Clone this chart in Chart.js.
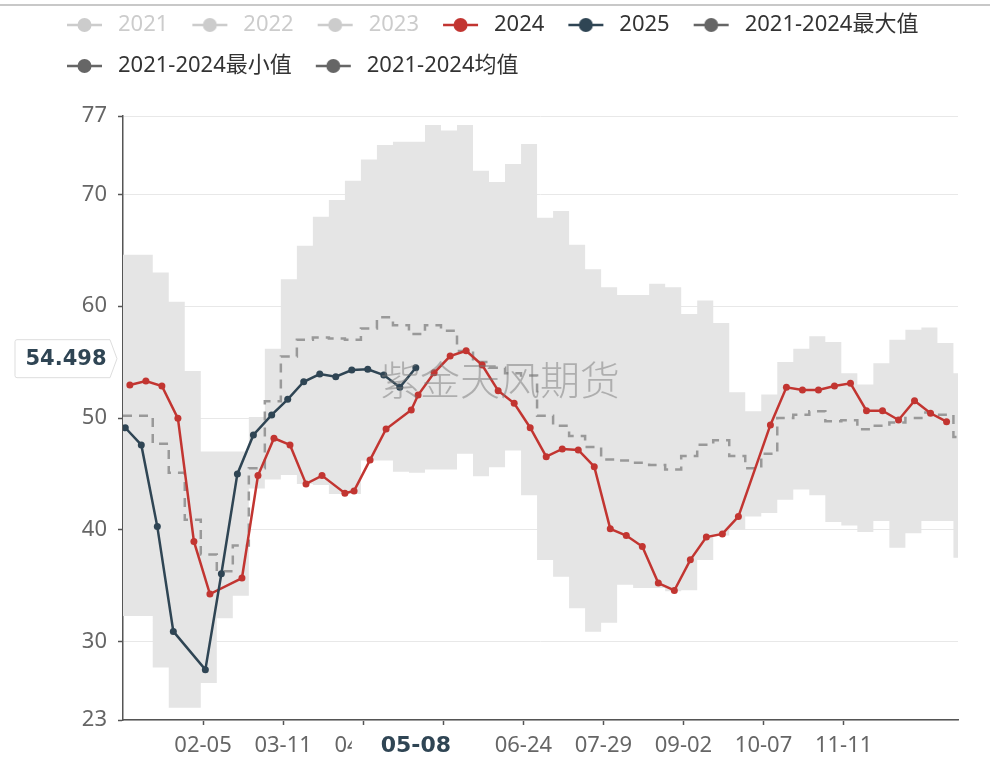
<!DOCTYPE html>
<html>
<head>
<meta charset="utf-8">
<script src="https://cdn.jsdelivr.net/npm/chart.js@4.4.1/dist/chart.umd.min.js"></script>
<style>
  html, body { margin: 0; padding: 0; background: #fff; }
  #wrap { position: relative; width: 1000px; height: 760px; overflow: hidden; }
  #topline { position: absolute; left: 0; top: 4px; width: 990px; height: 2px; background: #c8c8c8; }
  #myChart { position: absolute; left: 0; top: -5px; }
</style>
</head>
<body>
<div id="wrap">
  <div id="topline"></div>
  <canvas id="myChart" width="1000" height="765"></canvas>
</div>
<script>
//x轴刻度 (MM-DD)
const xTickLabels = ["02-05", "03-11", "04-15", "05-20", "06-24", "07-29", "09-02", "10-07", "11-11"];
const yTicks = [23, 30, 40, 50, 60, 70, 77];

//2021-2024 区间 (每周一档)
const bandDays = [
  "01-01", "01-14", "01-21", "01-28", "02-04", "02-11", "02-18", "02-25", "03-03", "03-10",
  "03-17", "03-24", "03-31", "04-07", "04-14", "04-21", "04-28", "05-05", "05-12", "05-19",
  "05-26", "06-02", "06-09", "06-16", "06-23", "06-30", "07-07", "07-14", "07-21", "07-28",
  "08-04", "08-11", "08-18", "08-25", "09-01", "09-08", "09-15", "09-22", "09-29", "10-06",
  "10-13", "10-20", "10-27", "11-03", "11-10", "11-17", "11-24", "12-01", "12-08", "12-15",
  "12-22", "12-29",
];
const maxVals = [
  64.6, 63.0, 60.4, 54.2, 47.0, 47.0, 47.0, 50.1, 56.2, 62.4,
  65.4, 68.0, 69.5, 71.2, 73.1, 74.4, 74.7, 74.7, 76.2, 75.7,
  76.2, 72.1, 71.1, 72.7, 74.5, 67.9, 68.5, 65.5, 63.3, 61.7,
  61.0, 61.0, 62.0, 61.7, 59.3, 60.5, 58.5, 52.3, 50.6, 52.1,
  55.0, 56.2, 57.3, 56.8, 54.0, 53.0, 54.9, 57.0, 57.9, 58.1,
  56.7, 54.0,
];
const minVals = [
  32.3, 27.7, 24.1, 24.1, 26.3, 32.1, 34.1, 43.7, 44.5, 44.9,
  44.1, 44.0, 43.2, 43.2, 46.2, 46.2, 45.2, 45.1, 45.4, 45.4,
  46.8, 44.8, 45.6, 47.1, 43.1, 37.3, 35.8, 33.0, 30.9, 31.7,
  35.1, 34.8, 34.8, 34.5, 34.6, 37.3, 39.5, 40.0, 41.2, 41.5,
  42.7, 43.6, 43.1, 40.7, 40.4, 39.8, 40.8, 38.4, 39.7, 40.8,
  40.8, 37.5,
];
const meanVals = [
  50.2, 47.7, 45.1, 40.9, 37.8, 36.3, 38.6, 45.5, 51.5, 55.5,
  57.0, 57.2, 57.1, 57.0, 58.0, 59.0, 58.3, 57.5, 58.3, 57.8,
  56.0, 55.0, 54.5, 54.0, 53.8, 50.2, 49.3, 48.4, 47.4, 46.3,
  46.2, 46.0, 45.8, 45.4, 46.6, 47.6, 48.0, 46.6, 45.5, 46.8,
  50.0, 50.3, 50.6, 49.7, 49.8, 49.0, 49.3, 49.6, 50.0, 50.5,
  50.3, 48.3,
];

//2024
const days2024 = [
  "01-04", "01-11", "01-18", "01-25", "02-01", "02-08", "02-22", "02-29", "03-07", "03-14",
  "03-21", "03-28", "04-07", "04-11", "04-18", "04-25", "05-06", "05-09", "05-16", "05-23",
  "05-30", "06-06", "06-13", "06-20", "06-27", "07-04", "07-11", "07-18", "07-25", "08-01",
  "08-08", "08-15", "08-22", "08-29", "09-05", "09-12", "09-19", "09-26", "10-10", "10-17",
  "10-24", "10-31", "11-07", "11-14", "11-21", "11-28", "12-05", "12-12", "12-19", "12-26",
];
const vals2024 = [
  52.95, 53.3, 52.86, 49.97, 38.96, 34.26, 35.69, 44.85, 48.19, 47.59,
  44.11, 44.85, 43.28, 43.48, 46.25, 49.02, 50.71, 52.05, 54.04, 55.54,
  56.01, 54.73, 52.44, 51.31, 49.13, 46.54, 47.23, 47.14, 45.65, 40.09,
  39.49, 38.51, 35.24, 34.58, 37.32, 39.35, 39.64, 41.19, 49.38, 52.74,
  52.5, 52.5, 52.86, 53.1, 50.65, 50.65, 49.82, 51.54, 50.42, 49.67,
];

//2025
const days2025 = [
  "01-02", "01-09", "01-16", "01-23", "02-06", "02-13", "02-20", "02-27", "03-06", "03-13",
  "03-20", "03-27", "04-03", "04-10", "04-17", "04-24", "05-01", "05-08",
];
const vals2025 = [
  49.13, 47.59, 40.29, 30.92, 27.5, 36.07, 45.0, 48.48, 50.27, 51.67,
  53.24, 53.93, 53.69, 54.29, 54.35, 53.84, 52.74, 54.498,
];

const pointerDay = "05-08";
const pointerValue = 54.498;

const names = ["2021", "2022", "2023", "2024", "2025", "2021-2024最大值", "2021-2024最小值", "2021-2024均值"];
const iconColors = ["#cccccc", "#cccccc", "#cccccc", "#c23531", "#2f4554", "#666666", "#666666", "#666666"];
const textColors = ["#cccccc", "#cccccc", "#cccccc", "#333333", "#333333", "#333333", "#333333", "#333333"];

//日期 -> 全年第几天 (闰年)
const monthStart = [0, 31, 60, 91, 121, 152, 182, 213, 244, 274, 305, 335];
function dayOf(md) {
  const [m, d] = md.split("-").map(Number);
  return monthStart[m - 1] + d - 1;
}

function toPoints(days, vals) {
  return days.map((d, i) => ({ x: dayOf(d), y: vals[i] }));
}

//阶梯区间最后延到年底
function bandPoints(vals) {
  const pts = toPoints(bandDays, vals);
  pts.push({ x: dayOf("12-31"), y: vals[vals.length - 1] });
  return pts;
}

//图例小图标: 线 + 圆点
function makeIcon(color) {
  const c = document.createElement("canvas");
  c.width = 45;
  c.height = 18;
  const g = c.getContext("2d");
  g.strokeStyle = color;
  g.lineWidth = 2.5;
  g.beginPath();
  g.moveTo(5, 9);
  g.lineTo(40, 9);
  g.stroke();
  g.fillStyle = color;
  g.beginPath();
  g.arc(22.5, 9, 7, 0, Math.PI * 2);
  g.fill();
  return c;
}
const icons = iconColors.map(makeIcon);

const FONT = '"Noto Sans", "Noto Sans CJK SC", sans-serif';
Chart.defaults.font.family = FONT;

//水印 + 轴指示标签
const overlayPlugin = {
  id: "overlay",
  afterDatasetsDraw(chart) {
    const ctx = chart.ctx;
    ctx.save();
    ctx.font = '300 40px "Noto Sans CJK SC"';
    ctx.fillStyle = "rgba(120,120,120,0.5)";
    ctx.textAlign = "center";
    ctx.textBaseline = "middle";
    ctx.fillText("紫金天风期货", 500, 385);
    ctx.restore();
  },
  afterDraw(chart) {
    const ctx = chart.ctx;
    const xs = chart.scales.x;
    const ys = chart.scales.y;
    const area = chart.chartArea;
    ctx.save();

    //x轴标签
    const px = xs.getPixelForValue(dayOf(pointerDay));
    ctx.fillStyle = "#fff";
    ctx.fillRect(px - 64, area.bottom + 7, 128, 40);
    ctx.font = 'bold 22px "DejaVu Sans"';
    ctx.fillStyle = "#2f4554";
    ctx.textAlign = "center";
    ctx.textBaseline = "middle";
    ctx.fillText(pointerDay, px, area.bottom + 26);

    //y轴标签
    const cy = ys.getPixelForValue(pointerValue) - 9;
    ctx.beginPath();
    ctx.moveTo(17, cy - 19);
    ctx.lineTo(110, cy - 19);
    ctx.lineTo(117, cy);
    ctx.lineTo(110, cy + 19);
    ctx.lineTo(17, cy + 19);
    ctx.quadraticCurveTo(15, cy + 19, 15, cy + 17);
    ctx.lineTo(15, cy - 17);
    ctx.quadraticCurveTo(15, cy - 19, 17, cy - 19);
    ctx.closePath();
    ctx.fillStyle = "#fff";
    ctx.fill();
    ctx.strokeStyle = "#dddddd";
    ctx.lineWidth = 1;
    ctx.stroke();
    ctx.font = 'bold 21px "DejaVu Sans"';
    ctx.fillStyle = "#2f4554";
    ctx.fillText(pointerValue.toFixed(3), 66, cy + 1);
    ctx.restore();
  },
};

new Chart("myChart", {
  type: "line",
  data: {
    datasets: [
      { label: names[0], data: [], hidden: true },
      { label: names[1], data: [], hidden: true },
      { label: names[2], data: [], hidden: true },
      {
        label: names[3],
        data: toPoints(days2024, vals2024),
        borderColor: "#c23531",
        backgroundColor: "#c23531",
        borderWidth: 2.5,
        pointRadius: 3.5,
        pointBorderWidth: 0,
        order: 1,
      },
      {
        label: names[4],
        data: toPoints(days2025, vals2025),
        borderColor: "#2f4554",
        backgroundColor: "#2f4554",
        borderWidth: 2.5,
        pointRadius: 3.5,
        pointBorderWidth: 0,
        order: 0,
      },
      {
        label: names[5],
        data: bandPoints(maxVals),
        stepped: true,
        borderWidth: 0,
        borderColor: "transparent",
        backgroundColor: "#e5e5e5",
        pointRadius: 0,
        fill: "+1",
        order: 4,
      },
      {
        label: names[6],
        data: bandPoints(minVals),
        stepped: true,
        borderWidth: 0,
        borderColor: "transparent",
        pointRadius: 0,
        fill: false,
        order: 3,
      },
      {
        label: names[7],
        data: bandPoints(meanVals),
        stepped: true,
        borderColor: "#999999",
        borderWidth: 2.5,
        borderDash: [9, 7],
        pointRadius: 0,
        fill: false,
        order: 2,
      },
    ],
  },
  plugins: [overlayPlugin],
  options: {
    responsive: false,
    animation: false,
    devicePixelRatio: 1,
    layout: { padding: { left: 43, right: 42, top: 0, bottom: 0 } },
    plugins: {
      tooltip: { enabled: false },
      title: {
        display: true,
        text: "",
        weight: 500,
        font: { size: 1, lineHeight: 1 },
        padding: { top: 0, bottom: 28 },
      },
      legend: {
        position: "top",
        align: "start",
        onClick: null,
        labels: {
          usePointStyle: true,
          pointStyleWidth: 45,
          padding: 19,
          font: { size: 22 },
          generateLabels: (chart) =>
            chart.data.datasets.map((ds, i) => ({
              text: ds.label,
              datasetIndex: i,
              hidden: false,
              pointStyle: icons[i],
              fontColor: textColors[i],
              fillStyle: iconColors[i],
              strokeStyle: iconColors[i],
              lineWidth: 0,
            })),
        },
      },
    },
    scales: {
      x: {
        type: "linear",
        min: 0,
        max: 365,
        afterBuildTicks: (axis) => {
          axis.ticks = xTickLabels.map((l) => ({ value: dayOf(l) }));
        },
        afterFit: (axis) => {
          axis.height = 40;
        },
        ticks: {
          autoSkip: false,
          maxRotation: 0,
          padding: 8,
          color: "#666",
          font: { size: 22 },
          callback: (value, index) => xTickLabels[index],
        },
        grid: {
          drawOnChartArea: false,
          drawTicks: true,
          tickLength: 5,
          tickColor: "#555",
          tickWidth: 1.5,
        },
        border: { color: "#555", width: 1.5 },
      },
      y: {
        min: 23,
        max: 77,
        afterBuildTicks: (axis) => {
          axis.ticks = yTicks.map((v) => ({ value: v }));
        },
        afterFit: (axis) => {
          axis.width = 80;
        },
        ticks: {
          padding: 11,
          color: "#666",
          font: { size: 22 },
          callback: (v) => v,
        },
        grid: {
          color: "#e8e8e8",
          lineWidth: 1,
          tickLength: 5,
          tickColor: "#555",
          tickWidth: 1.5,
        },
        border: { color: "#555", width: 1.5 },
      },
    },
  },
});
</script>
</body>
</html>
